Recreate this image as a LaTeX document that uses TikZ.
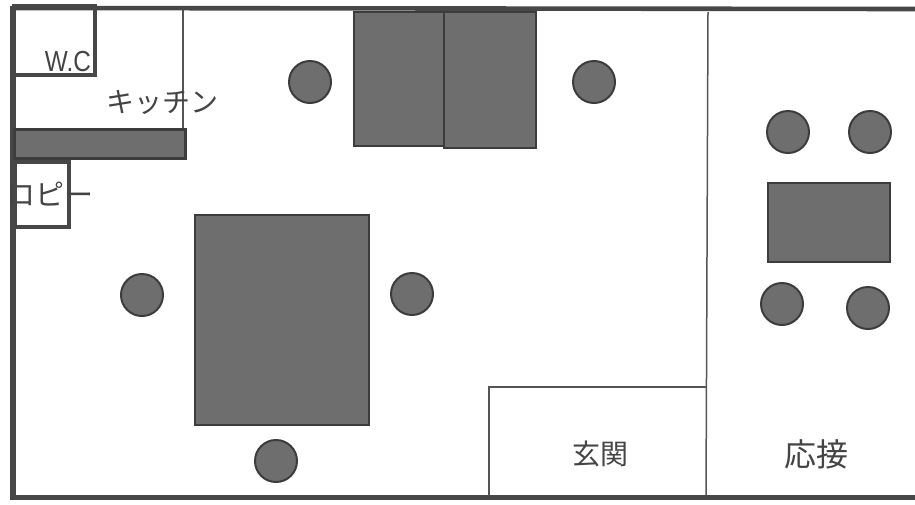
\documentclass[tikz,border=0pt]{standalone}
\usepackage{fontspec}
\setmainfont{Liberation Sans}
\newfontfamily\cjk{Noto Sans CJK JP}
\definecolor{wallc}{HTML}{474747}
\definecolor{linec}{HTML}{555555}
\definecolor{fillc}{HTML}{6E6E6E}
\definecolor{edgec}{HTML}{3C3C3C}
\definecolor{textc}{HTML}{444444}
\tikzset{
  wall/.style={draw=wallc},
  room/.style={draw=wallc,line width=4pt},
  thin wall/.style={draw=linec,line width=1.5pt},
  desk/.style={draw=edgec,fill=fillc,line width=2.6pt},
  seat/.style={circle,draw=edgec,fill=fillc,line width=2pt,minimum size=42pt,inner sep=0pt},
  lbl/.style={text=textc,inner sep=0pt},
}
\begin{document}
\begin{tikzpicture}[x=1pt,y=-1pt]
\useasboundingbox (0,0) rectangle (915,504);
\fill[white] (0,0) rectangle (915,504);
% thin partitions
\draw[thin wall] (183,9) -- (183,128);
\draw[thin wall] (708,12) -- (706,497);
\draw[thin wall] (706,387) -- (489,387) -- (489,497);
% outer wall
\draw[wall,line width=4.6pt] (915,9) -- (12,8);
\draw[wall,line width=5.6pt] (13,6) -- (13,499);
\draw[wall,line width=5pt] (10,497) -- (915,497);
% labels beneath small rooms
\node[lbl,font=\fontsize{29pt}{29pt}\selectfont,xscale=.84] (wc) at (68,62) {W.C};
\node[lbl,font=\cjk\fontsize{28pt}{28pt}\selectfont] (kitchen) at (162,102) {キッチン};
\node[lbl,font=\cjk\fontsize{29pt}{29pt}\selectfont] (copy) at (50,194) {ロピー};
\node[lbl,font=\cjk\fontsize{28pt}{28pt}\selectfont] (entrance) at (600,454) {玄関};
\node[lbl,font=\cjk\fontsize{32pt}{32pt}\selectfont] (reception) at (816,454) {応接};
% small rooms
\draw[room] (14,6) rectangle (95,75);
\draw[room] (15,162) rectangle (69,227);
% furniture
\draw[desk,line width=3pt] (14,129) rectangle (185,158);
\draw[desk] (354,12) rectangle (444,146);
\draw[desk] (444,12) rectangle (536,148);
\draw[desk] (195,215) rectangle (369,425);
\draw[desk] (768,183) rectangle (890,262);
% chairs
\node[seat] (s1) at (310,82) {};
\node[seat] (s2) at (594,82) {};
\node[seat] (s3) at (142,295) {};
\node[seat] (s4) at (412,294) {};
\node[seat] (s5) at (276,461) {};
\node[seat] (s6) at (788,132) {};
\node[seat] (s7) at (870,132) {};
\node[seat] (s8) at (782,304) {};
\node[seat] (s9) at (868,308) {};
\end{tikzpicture}
\end{document}
